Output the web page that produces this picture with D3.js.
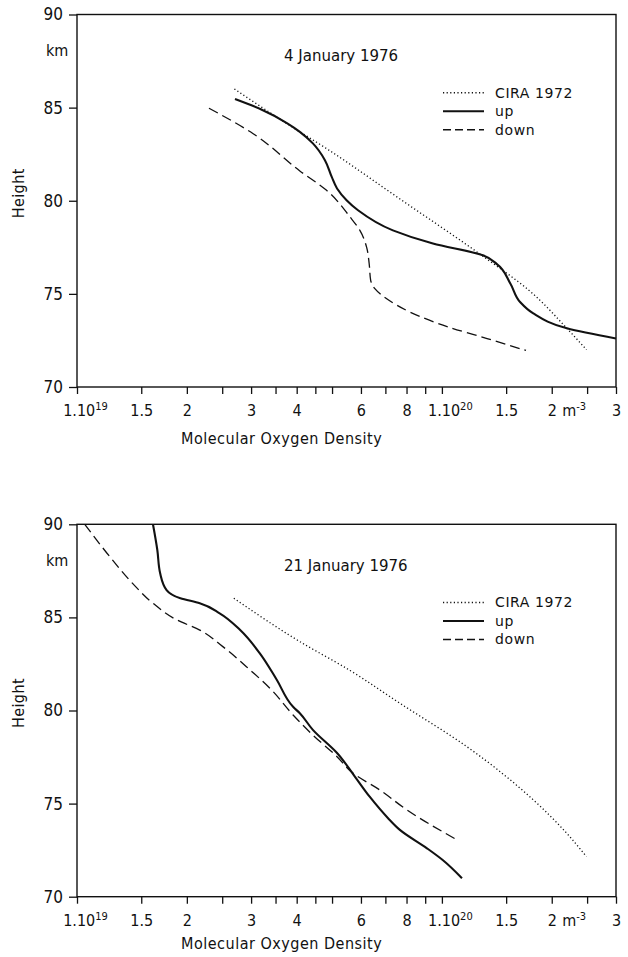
<!DOCTYPE html>
<html>
<head>
<meta charset="utf-8">
<script src="https://cdn.jsdelivr.net/npm/d3@7/dist/d3.min.js"></script>
<style>
  body { margin: 0; background: #fff; }
  svg { display: block; }
  .tick text, .lab { font-family: "DejaVu Sans Condensed", "Liberation Sans Narrow", sans-serif; fill: #111; }
  .ttl { font-family: "DejaVu Sans", sans-serif; fill: #111; }
</style>
</head>
<body>
<svg width="628" height="957"></svg>
<script>
// densities in units of 1e19 m^-3, heights in km
var xTicks = [1, 1.5, 2, 2.5, 3, 3.5, 4, 4.5, 5, 6, 7, 8, 9, 10, 15, 20, 25, 30];
var xLabelVals = [1, 1.5, 2, 3, 4, 6, 8, 10, 15, 20, 30];
var xLabelText = ["1.10", "1.5", "2", "3", "4", "6", "8", "1.10", "1.5", "2", "3"];
var xLabelSup = ["19", "", "", "", "", "", "", "20", "", "", ""];
var yTicks = [70, 75, 80, 85, 90];

var seriesNames = ["CIRA 1972", "up", "down"];

// 4 January 1976
var cira1 = [[2.7, 86], [4.08, 83.7], [4.57, 83.1], [7.8, 80], [13, 77], [17.3, 75.2], [22, 73.15], [24.9, 72]];
var up1 = [[2.71, 85.46], [3.2, 84.9], [3.76, 84.17], [4.08, 83.7], [4.43, 83.08], [4.78, 82.18], [4.99, 81.28],
    [5.16, 80.66], [5.48, 80.03], [5.89, 79.49], [7.34, 78.41], [9.45, 77.7], [12.95, 77.07], [14.15, 76.6],
    [15.4, 75.56], [16.4, 74.55], [17.8, 73.95], [22.0, 73.15], [30, 72.6]];
var down1 = [[2.30, 84.97], [3.04, 83.6], [4.08, 81.6], [4.83, 80.56], [5.6, 79.13], [5.96, 78.41], [6.22, 77.5],
    [6.32, 76.62], [6.38, 75.73], [6.55, 75.28], [7.06, 74.74], [8.18, 74.02], [10.5, 73.2], [13.3, 72.6], [17.0, 71.96]];

// 21 January 1976
var cira2 = [[2.69, 86.03], [4.08, 83.7], [5.6, 82.15], [7.67, 80.39], [11.7, 78.06], [17.8, 75.2], [22, 73.4], [24.9, 72.15]];
var up2 = [[1.615, 90], [1.66, 88.62], [1.69, 87.37], [1.76, 86.47], [1.92, 86.03], [2.17, 85.76], [2.46, 85.22],
    [2.80, 84.32], [3.17, 83.07], [3.53, 81.64], [3.91, 80.2], [4.08, 79.85], [4.43, 78.96], [5.16, 77.72],
    [5.78, 76.44], [6.34, 75.37], [7.11, 74.23], [7.67, 73.59], [9.1, 72.6], [10.05, 71.97], [11.35, 70.99]];
var down2 = [[1.05, 90], [1.23, 88.26], [1.42, 86.83], [1.615, 85.76], [1.88, 84.86], [2.17, 84.32], [2.51, 83.43],
    [2.98, 82.18], [3.38, 81.19], [3.91, 79.76], [4.43, 78.68], [5.16, 77.52], [5.70, 76.64], [6.76, 75.73],
    [8.02, 74.66], [11.0, 73.05]];

var svg = d3.select("svg");
var left = 77, right = 616;

function drawPanel(top, bottom, labelGap, title, cira, up, down) {
    var x = d3.scaleLog().domain([1, 30]).range([left, right]);
    var y = d3.scaleLinear().domain([70, 90]).range([bottom, top]);
    var g = svg.append("g");

    // frame
    g.append("rect")
        .attr("x", left).attr("y", top)
        .attr("width", right - left).attr("height", bottom - top)
        .attr("fill", "none").attr("stroke", "#111").attr("stroke-width", 1.4);

    var xAxis = g.append("g")
        .attr("transform", "translate(0," + bottom + ")")
        .call(d3.axisBottom(x).tickValues(xTicks).tickSize(7).tickSizeOuter(0).tickPadding(11)
            .tickFormat(function (d) {
                var i = xLabelVals.indexOf(d);
                return i < 0 ? "" : xLabelText[i];
            }));
    xAxis.select(".domain").remove();
    xAxis.selectAll("line").attr("stroke", "#111").attr("stroke-width", 1.3);
    xAxis.selectAll("text").attr("font-size", 16);
    xAxis.selectAll(".tick").each(function (d) {
        var i = xLabelVals.indexOf(d);
        if (i < 0 || !xLabelSup[i]) return;
        var t = d3.select(this).select("text").text(null).attr("x", 8);
        t.append("tspan").text(xLabelText[i]);
        t.append("tspan").attr("dy", -6).attr("font-size", 11).text(xLabelSup[i]);
    });
    // unit next to the 2e20 label
    var unit = xAxis.selectAll(".tick").filter(function (d) { return d === 20; })
        .append("text").attr("class", "lab")
        .attr("x", 10).attr("y", 18).attr("dy", "0.71em")
        .attr("font-size", 16).attr("text-anchor", "start");
    unit.append("tspan").text("m");
    unit.append("tspan").attr("dy", -6).attr("font-size", 11).text("-3");

    var yAxis = g.append("g")
        .attr("transform", "translate(" + left + ",0)")
        .call(d3.axisLeft(y).tickValues(yTicks).tickSize(8).tickSizeOuter(0).tickPadding(6));
    yAxis.select(".domain").remove();
    yAxis.selectAll("line").attr("stroke", "#111").attr("stroke-width", 1.3);
    yAxis.selectAll("text").attr("font-size", 17);

    g.append("text").attr("class", "lab")
        .attr("x", 46).attr("y", y(88.05)).attr("dy", "0.35em")
        .attr("font-size", 16).text("km");

    g.append("text").attr("class", "lab")
        .attr("transform", "translate(24," + y(80.4) + ") rotate(-90)")
        .attr("text-anchor", "middle").attr("font-size", 16)
        .style("letter-spacing", "0.4px").text("Height");

    g.append("text").attr("class", "lab")
        .attr("x", 181).attr("y", bottom + labelGap)
        .attr("font-size", 16).style("letter-spacing", "0.5px")
        .text("Molecular Oxygen Density");

    g.append("text").attr("class", "ttl")
        .attr("x", 284).attr("y", y(87.8)).attr("dy", "0.35em")
        .attr("font-size", 15).text(title);

    var line = d3.line()
        .x(function (d) { return x(d[0]); })
        .y(function (d) { return y(d[1]); })
        .curve(d3.curveMonotoneY);

    var styles = [
        { data: cira, width: 1.3, dash: "1.2,2.4" },
        { data: up, width: 2.1, dash: null },
        { data: down, width: 1.3, dash: "10,5" }
    ];

    g.selectAll("path.series").data(styles).enter().append("path")
        .attr("class", "series")
        .attr("d", function (d) { return line(d.data); })
        .attr("fill", "none")
        .attr("stroke", "#111")
        .attr("stroke-width", function (d) { return d.width; })
        .attr("stroke-dasharray", function (d) { return d.dash; });

    // legend
    var lg = g.selectAll("g.legend").data(styles).enter().append("g")
        .attr("class", "legend")
        .attr("transform", function (d, i) { return "translate(443," + (y(85.8) + i * 18.5) + ")"; });
    lg.append("line")
        .attr("x1", 0).attr("x2", 41).attr("y1", 0).attr("y2", 0)
        .attr("stroke", "#111")
        .attr("stroke-width", function (d) { return d.width; })
        .attr("stroke-dasharray", function (d) { return d.dash ? (d.dash === "10,5" ? "8,4" : d.dash) : null; });
    lg.append("text").attr("class", "ttl")
        .attr("x", 52).attr("dy", "0.35em")
        .attr("font-size", 14).style("letter-spacing", "0.6px")
        .text(function (d, i) { return seriesNames[i]; });
}

drawPanel(14.5, 387, 57, "4 January 1976", cira1, up1, down1);
drawPanel(524.3, 896.7, 52, "21 January 1976", cira2, up2, down2);
</script>
</body>
</html>
